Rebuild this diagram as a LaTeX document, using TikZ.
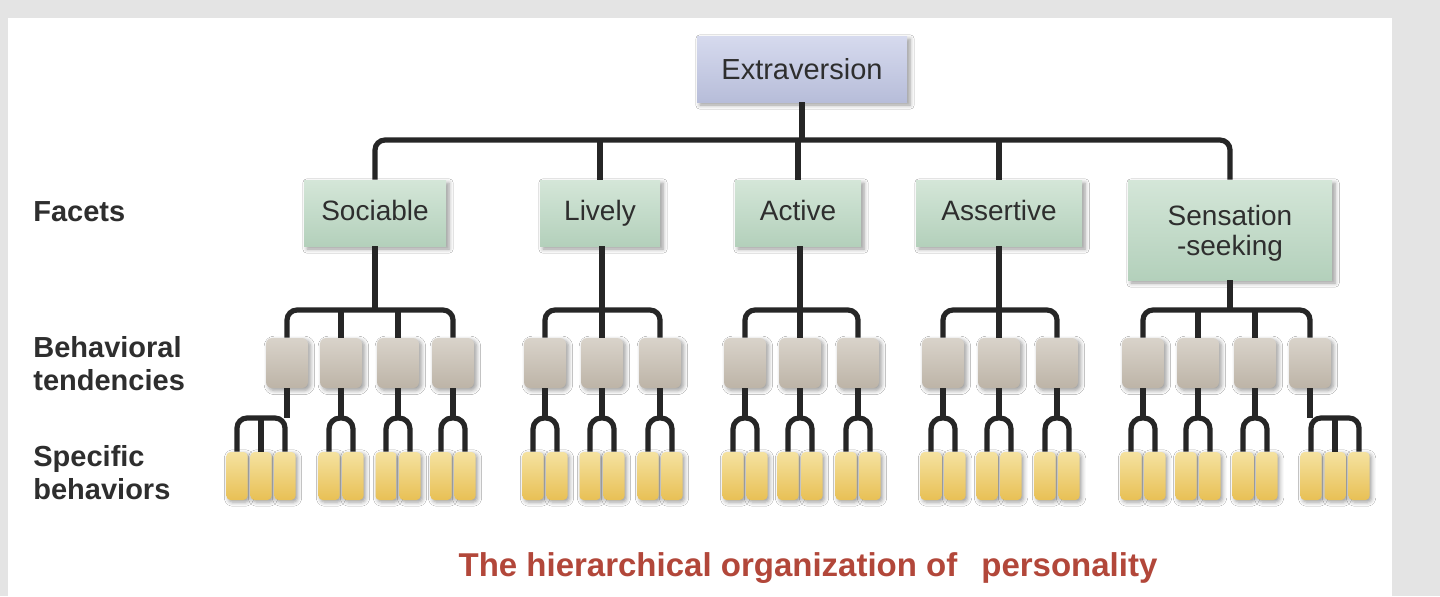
\documentclass[tikz,border=0pt]{standalone}
\usepackage{fontspec}
\setmainfont{Liberation Sans}
\usetikzlibrary{shadows.blur}
\definecolor{bgc}{HTML}{E4E4E4}
\definecolor{linec}{HTML}{262626}
\definecolor{labc}{HTML}{2E2E2E}
\definecolor{capc}{HTML}{B2473A}
\definecolor{extT}{HTML}{D6DAEE}
\definecolor{extB}{HTML}{B7BDD9}
\definecolor{facT}{HTML}{D4E6D8}
\definecolor{facB}{HTML}{B3D0BB}
\definecolor{behT}{HTML}{D9D3CA}
\definecolor{behB}{HTML}{BDB4A7}
\definecolor{spT}{HTML}{F5E2A0}
\definecolor{spB}{HTML}{E8C055}
\tikzset{
  conn/.style={draw=linec,line width=2.6pt},
  topbox/.style={rectangle,top color=extT,bottom color=extB,minimum width=105pt,minimum height=33pt,font=\fontsize{14.5}{16}\selectfont,text=labc,blur shadow={shadow blur steps=5,shadow xshift=1.5pt,shadow yshift=-1.5pt}},
  facet/.style={rectangle,top color=facT,bottom color=facB,minimum height=33pt,font=\fontsize{14}{15}\selectfont,text=labc,text depth=0.25em,align=center,blur shadow={shadow blur steps=5,shadow xshift=1.5pt,shadow yshift=-1.5pt}},
  beh/.style={rectangle,rounded corners=3pt,top color=behT,bottom color=behB,minimum width=21pt,minimum height=25pt,inner sep=0pt,blur shadow={shadow blur steps=5,shadow xshift=1.2pt,shadow yshift=-1.2pt}},
  spec/.style={rectangle,rounded corners=2pt,top color=spT,bottom color=spB,minimum width=10.5pt,minimum height=24pt,inner sep=0pt,blur shadow={shadow blur steps=4,shadow xshift=1pt,shadow yshift=-1pt}},
  side/.style={font=\bfseries\fontsize{14.5}{16.5}\selectfont,text=labc,anchor=west,align=left,inner sep=0pt},
}
\begin{document}
\begin{tikzpicture}[x=0.5pt,y=-0.5pt]
\useasboundingbox (0,0) rectangle (1440,596);
\fill[bgc] (0,0) rectangle (1440,596);
\fill[white] (8,18) rectangle (1392,596);
% top
\node[topbox] (ext) at (802,69) {Extraversion};
\node[facet,minimum width=71pt] (soc) at (375,213) {Sociable};
\node[facet,minimum width=60pt] (liv) at (600,213) {Lively};
\node[facet,minimum width=63pt] (act) at (798,213) {Active};
\node[facet,minimum width=83pt] (ass) at (999,213) {Assertive};
\node[facet,minimum width=102pt,minimum height=50pt,text depth=0pt] (sen) at (1230,230) {Sensation\\-seeking};
\coordinate (tb) at (0,140);
\draw[conn] (ext.south) -- (ext.south |- tb);
\draw[conn,rounded corners=5pt] (soc.north) -- (soc.north |- tb) -- (sen.north |- tb) -- (sen.north);
\foreach \f in {liv,act,ass} \draw[conn] (\f.north) -- (\f.north |- tb);
% side labels
\node[side] (lf) at (33,212) {Facets};
\node[side] (lb) at (33,364) {Behavioral\\tendencies};
\node[side] (ls) at (33,473) {Specific\\behaviors};
% behaviors
\coordinate (bb) at (0,310);
\coordinate (sb) at (0,418);
\foreach \f/\xs in {soc/{287,341,398,453},liv/{545,602,660},act/{745,800,858},ass/{943,999,1057},sen/{1143,1198,1255,1310}}{
  \foreach \x [count=\j] in \xs {
    \node[beh] (\f b\j) at (\x,363) {};
  }
}
\draw[conn] (soc.south) -- (soc.south |- bb);
\draw[conn,rounded corners=5pt] (socb1.north) -- (socb1.north |- bb) -- (socb4.north |- bb) -- (socb4.north);
\draw[conn] (socb2.north) -- (socb2.north |- bb) (socb3.north) -- (socb3.north |- bb);
\draw[conn] (sen.south) -- (sen.south |- bb);
\draw[conn,rounded corners=5pt] (senb1.north) -- (senb1.north |- bb) -- (senb4.north |- bb) -- (senb4.north);
\draw[conn] (senb2.north) -- (senb2.north |- bb) (senb3.north) -- (senb3.north |- bb);
\foreach \f in {liv,act,ass}{
  \draw[conn] (\f.south -| \f b2.north) -- (\f b2.north);
  \draw[conn,rounded corners=5pt] (\f b1.north) -- (\f b1.north |- bb) -- (\f b3.north |- bb) -- (\f b3.north);
}
% specific behaviors, pairs
\foreach \b in {socb2,socb3,socb4,livb1,livb2,livb3,actb1,actb2,actb3,assb1,assb2,assb3,senb1,senb2,senb3}{
  \node[spec] (\b s1) at ([xshift=-6pt]\b.south |- 0,476) {};
  \node[spec] (\b s2) at ([xshift=6pt]\b.south |- 0,476) {};
  \draw[conn] (\b.south) -- (\b.south |- sb);
  \draw[conn,rounded corners=5.5pt] (\b s1.north) -- (\b s1.north |- sb) -- (\b s2.north |- sb) -- (\b s2.north);
}
% triples
\node[spec] (socb1s1) at (237,476) {};
\node[spec] (socb1s2) at (261,476) {};
\node[spec] (socb1s3) at (285,476) {};
\draw[conn] (socb1.south) -- (socb1.south |- sb);
\draw[conn,rounded corners=5pt] (socb1s1.north) -- (socb1s1.north |- sb) -- (socb1s3.north |- sb) -- (socb1s3.north);
\draw[conn] (socb1s2.north) -- (socb1s2.north |- sb);
\node[spec] (senb4s1) at (1311,476) {};
\node[spec] (senb4s2) at (1335,476) {};
\node[spec] (senb4s3) at (1359,476) {};
\draw[conn] (senb4.south) -- (senb4.south |- sb);
\draw[conn,rounded corners=5pt] (senb4s1.north) -- (senb4s1.north |- sb) -- (senb4s3.north |- sb) -- (senb4s3.north);
\draw[conn] (senb4s2.north) -- (senb4s2.north |- sb);
% caption
\node[font=\bfseries\fontsize{16.5}{18}\selectfont,text=capc] (cap) at (808,568) {The hierarchical organization of\hspace{12pt}personality};
\end{tikzpicture}
\end{document}
